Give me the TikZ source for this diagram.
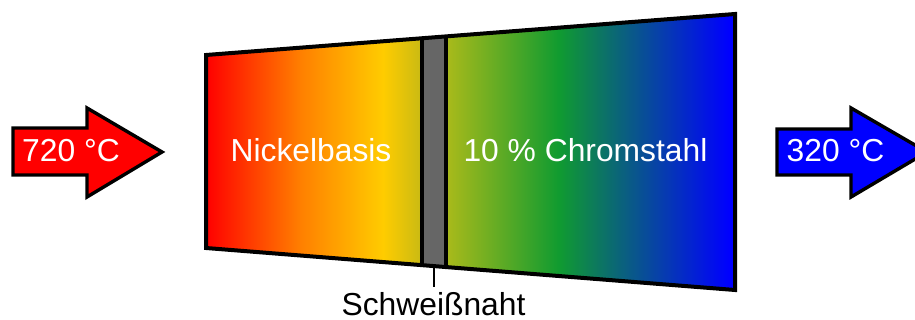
\documentclass[tikz,border=0pt]{standalone}
\usepackage{fontspec}
\setmainfont{Liberation Sans}
\definecolor{cred}{RGB}{255,0,0}
\definecolor{corange}{RGB}{255,128,0}
\definecolor{cyellow}{RGB}{255,204,0}
\definecolor{colive}{RGB}{200,186,20}
\definecolor{clime}{RGB}{170,186,26}
\definecolor{cgreen}{RGB}{16,155,48}
\definecolor{cblue}{RGB}{0,0,255}
\definecolor{cgray}{RGB}{102,102,102}
\pgfdeclarehorizontalshading{leftshade}{100bp}{color(0bp)=(cred); color(25bp)=(cred); color(47bp)=(corange); color(66bp)=(cyellow); color(75bp)=(colive); color(100bp)=(colive)}
\pgfdeclarehorizontalshading{rightshade}{100bp}{color(0bp)=(clime); color(25bp)=(clime); color(44.5bp)=(cgreen); color(74bp)=(cblue); color(100bp)=(cblue)}
\tikzset{
  outline/.style={draw=black, line width=2pt, line join=miter},
  arrowshape/.style={draw=black, line width=1.7pt, line join=miter},
  label/.style={text=white, font=\fontsize{15.9}{18}\selectfont, anchor=base, inner sep=0pt},
  caption/.style={text=black, font=\fontsize{15.9}{18}\selectfont, anchor=base, inner sep=0pt},
}
\begin{document}
\begin{tikzpicture}[x=0.5pt,y=-0.5pt]
\useasboundingbox (0,0) rectangle (915,320);
\clip (0,0) rectangle (915,320);
% left arrow
\draw[arrowshape, fill=cred] (13,128) -- (87,128) -- (87,108) -- (162,152) -- (87,197) -- (87,175) -- (13,175) -- cycle;
% right arrow
\draw[arrowshape, fill=cblue] (777,129) -- (851,129) -- (851,108) -- (927,152) -- (851,197) -- (851,175) -- (777,175) -- cycle;
% gradients
\shade[shading=leftshade] (206,55) -- (422,38.26) -- (422,265.15) -- (206,248) -- cycle;
\shade[shading=rightshade] (446,36.4) -- (735,14) -- (735,290) -- (446,267.05) -- cycle;
\fill[cgray] (422,38.26) -- (446,36.4) -- (446,267.05) -- (422,265.15) -- cycle;
\draw[line width=1.6pt] (422,38.26) -- (422,265.15);
\draw[line width=1.6pt] (446,36.4) -- (446,267.05);
\draw[outline] (206,55) -- (735,14) -- (735,290) -- (206,248) -- cycle;
% labels
\node[label] (tin) at (71,162) {720 °C};
\node[label] (tout) at (835.5,162) {320 °C};
\node[label] (nick) at (311,162) {Nickelbasis};
\node[label] (chrom) at (585.5,162) {10 \% Chromstahl};
\coordinate (weldbot) at (433.5,266.2);
\node[caption] (weld) at (433.5,315) {Schweißnaht};
\draw[line width=1pt] (weldbot) -- (433.5,287);
\end{tikzpicture}
\end{document}
